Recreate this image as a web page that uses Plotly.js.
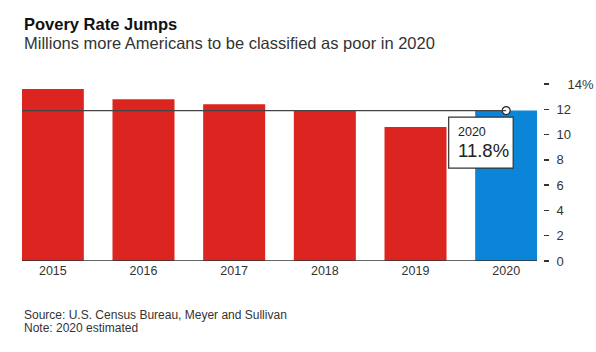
<!DOCTYPE html>
<html>
<head>
<meta charset="utf-8">
<script src="https://cdn.plot.ly/plotly-3.0.1.min.js"></script>
<style>html,body{margin:0;padding:0;background:#fff;}#chart{width:596px;height:352px;}</style>
</head>
<body>
<div id="chart"></div>
<script>
const years = ["2015", "2016", "2017", "2018", "2019", "2020"];
const povertyRate = [13.6, 12.8, 12.4, 11.9, 10.6, 11.9];
const barColors = ["#dc2520", "#dc2520", "#dc2520", "#dc2520", "#dc2520", "#0b85d8"];
const yTickVals = [0, 2, 4, 6, 8, 10, 12, 14];
const yTickText = ["0", "2", "4", "6", "8", "10", "12", "\u00a0\u00a0\u00a014%"];
const highlightLabel = "2020";
const highlightValue = "11.8%";
const titleText = "Povery Rate Jumps";
const subtitleText = "Millions more Americans to be classified as poor in 2020";
const sourceText = "Source: U.S. Census Bureau, Meyer and Sullivan";
const noteText = "Note: 2020 estimated";

const last = years.length - 1;
const font = "Liberation Sans, Arial, sans-serif";
const xRange = [-0.34, 5.34];
const yRange = [0, 14];
const xDomain = [0, 0.9885];

const traces = [
  {
    type: "bar",
    x: years,
    y: povertyRate,
    marker: {color: barColors, line: {width: 0}},
    hoverinfo: "none"
  },
  {
    type: "scatter",
    mode: "markers",
    x: [years[last]],
    y: [povertyRate[last]],
    marker: {size: 8, color: "#ffffff", line: {color: "#222", width: 1.2}},
    hoverinfo: "none"
  }
];

// paper position of the highlighted bar's top (through the axis ranges)
const hlX = xDomain[0] + (last - xRange[0]) / (xRange[1] - xRange[0]) * (xDomain[1] - xDomain[0]);
const hlY = (povertyRate[last] - yRange[0]) / (yRange[1] - yRange[0]);

const layout = {
  width: 596,
  height: 352,
  margin: {l: 22, r: 53, t: 84, b: 91},
  paper_bgcolor: "#ffffff",
  plot_bgcolor: "#ffffff",
  showlegend: false,
  bargap: 0.316,
  font: {family: font, color: "#222"},
  xaxis: {
    type: "category",
    domain: xDomain,
    range: xRange,
    showgrid: false,
    zeroline: false,
    showline: false,
    ticks: "",
    tickfont: {size: 12.5, color: "#333", family: font},
    fixedrange: true
  },
  yaxis: {
    range: yRange,
    side: "right",
    anchor: "free",
    position: 1,
    showgrid: false,
    zeroline: false,
    showline: false,
    ticks: "outside",
    ticklen: 5,
    tickwidth: 1.3,
    tickcolor: "#333",
    tickvals: yTickVals,
    ticktext: yTickText,
    ticklabelstandoff: 5,
    tickfont: {size: 13, color: "#333", family: font},
    fixedrange: true
  },
  shapes: [
    {
      type: "line", xref: "x", yref: "y",
      x0: xRange[0], x1: xRange[1], y0: 0, y1: 0,
      line: {color: "#333", width: 1.3}, layer: "above"
    },
    {
      type: "line", xref: "x", yref: "y",
      x0: xRange[0], x1: last, y0: povertyRate[last], y1: povertyRate[last],
      line: {color: "#444", width: 1.2}, layer: "above"
    },
    {
      type: "rect", xref: "paper", yref: "paper",
      xsizemode: "pixel", ysizemode: "pixel",
      xanchor: hlX, yanchor: hlY,
      x0: -57.5, x1: 7, y0: -6.5, y1: -57.5,
      fillcolor: "#ffffff", line: {color: "#333", width: 1.2}, layer: "above"
    }
  ],
  annotations: [
    {
      xref: "paper", yref: "paper", x: 0, y: 1.339, xanchor: "left", yanchor: "middle",
      text: "<b>" + titleText + "</b>", showarrow: false,
      font: {size: 16.5, color: "#111", family: font}
    },
    {
      xref: "paper", yref: "paper", x: 0, y: 1.232, xanchor: "left", yanchor: "middle",
      text: subtitleText, showarrow: false,
      font: {size: 16.5, color: "#333", family: font}
    },
    {
      xref: "paper", yref: "paper", x: 0, y: -0.307, xanchor: "left", yanchor: "middle",
      text: sourceText, showarrow: false,
      font: {size: 12, color: "#333", family: font}
    },
    {
      xref: "paper", yref: "paper", x: 0, y: -0.376, xanchor: "left", yanchor: "middle",
      text: noteText, showarrow: false,
      font: {size: 12, color: "#333", family: font}
    },
    {
      xref: "paper", yref: "paper", x: hlX, y: hlY,
      xanchor: "left", yanchor: "middle", xshift: -50, yshift: -21,
      showarrow: false, text: highlightLabel,
      font: {size: 12.5, color: "#222", family: font}
    },
    {
      xref: "paper", yref: "paper", x: hlX, y: hlY,
      xanchor: "left", yanchor: "middle", xshift: -50, yshift: -40,
      showarrow: false, text: highlightValue,
      font: {size: 18.5, color: "#222", family: font}
    }
  ]
};

Plotly.newPlot("chart", traces, layout, {displayModeBar: false, staticPlot: true});
</script>
</body>
</html>
